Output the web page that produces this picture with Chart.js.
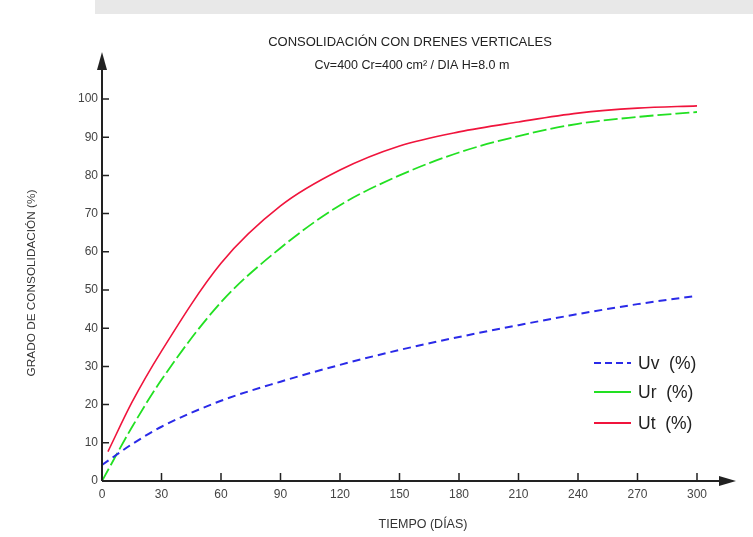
<!doctype html>
<html lang="es">
<head>
<meta charset="utf-8">
<title>Consolidación con drenes verticales</title>
<style>
  * { margin: 0; padding: 0; }
  body { background: #fff; width: 753px; height: 537px; overflow: hidden; position: relative; }
  .marca { position: absolute; left: 95px; top: 0; width: 658px; height: 14px; background: #e8e8e8; }
  .chartBox { position: absolute; left: 0; top: 0; width: 753px; height: 537px; }
</style>
</head>
<body>
<div class="marca"></div>
<div class="chartBox"><canvas id="grafConsolidacion"></canvas></div>
<script src="https://cdn.jsdelivr.net/npm/chart.js/dist/chart.umd.min.js"></script>
<script>
// datos
const dias   = [0, 15, 30, 60, 90, 120, 150, 180, 210, 240, 270, 300];
const diasUt = [3, 15, 30, 60, 90, 120, 150, 180, 210, 240, 270, 300];
const uv = [4.2, 9.6, 14.2, 21, 26, 30.4, 34.3, 37.7, 40.8, 43.7, 46.3, 48.5];
const ur = [0, 14, 26.5, 46.8, 61, 72.2, 80, 86, 90.3, 93.5, 95.3, 96.6];
const ut = [7.7, 20.5, 34, 57, 72, 81.4, 87.7, 91.4, 94, 96.3, 97.6, 98.2];
const ticksX = [0, 30, 60, 90, 120, 150, 180, 210, 240, 270, 300];
const ticksY = [0, 10, 20, 30, 40, 50, 60, 70, 80, 90, 100];
const etiquetas = ['Uv  (%)', 'Ur  (%)', 'Ut  (%)'];

const puntos = (xs, ys) => xs.map((d, i) => ({x: d, y: ys[i]}));

Chart.defaults.font.family = 'Liberation Sans, Arial, sans-serif';
Chart.defaults.font.size = 12;
Chart.defaults.color = '#444';

// ejes con flechas, marcas, textos y leyenda
const ejesPlugin = {
  id: 'ejesPlugin',
  afterDatasetsDraw(chart) {
    const {ctx, scales: {x, y}} = chart;
    const x0 = x.getPixelForValue(0);
    const y0 = y.getPixelForValue(0);
    ctx.save();
    ctx.strokeStyle = '#222';
    ctx.fillStyle = '#222';
    ctx.lineWidth = 2;
    ctx.setLineDash([]);

    ctx.beginPath();
    ctx.moveTo(x0, y0);
    ctx.lineTo(x0, 66);
    ctx.moveTo(x0, y0);
    ctx.lineTo(722, y0);
    ctx.stroke();

    ctx.beginPath();
    ctx.moveTo(x0, 52); ctx.lineTo(x0 - 5, 70); ctx.lineTo(x0 + 5, 70);
    ctx.fill();
    ctx.beginPath();
    ctx.moveTo(736, y0); ctx.lineTo(719, y0 - 5); ctx.lineTo(719, y0 + 5);
    ctx.fill();

    ctx.lineWidth = 1.5;
    ctx.beginPath();
    ticksX.forEach(v => {
      if (v === 0) return;
      const px = x.getPixelForValue(v);
      ctx.moveTo(px, y0);
      ctx.lineTo(px, y0 - 8);
    });
    ticksY.forEach(v => {
      if (v === 0) return;
      const py = y.getPixelForValue(v);
      ctx.moveTo(x0, py);
      ctx.lineTo(x0 + 7, py);
    });
    ctx.stroke();

    // titulos
    ctx.fillStyle = '#222';
    ctx.textAlign = 'center';
    ctx.textBaseline = 'middle';
    ctx.font = '13px Liberation Sans, Arial, sans-serif';
    ctx.fillText('CONSOLIDACIÓN CON DRENES VERTICALES', 410, 42);
    ctx.font = '12.5px Liberation Sans, Arial, sans-serif';
    ctx.fillText('Cv=400 Cr=400 cm² / DIA H=8.0 m', 412, 66);
    ctx.fillStyle = '#333';
    ctx.font = '12.5px Liberation Sans, Arial, sans-serif';
    ctx.fillText('TIEMPO (DÍAS)', 423, 525);
    ctx.save();
    ctx.translate(32, 283);
    ctx.rotate(-Math.PI / 2);
    ctx.font = '11.8px Liberation Sans, Arial, sans-serif';
    ctx.fillText('GRADO DE CONSOLIDACIÓN (%)', 0, 0);
    ctx.restore();

    // leyenda
    const filas = [363, 392, 423];
    chart.data.datasets.forEach((ds, i) => {
      ctx.strokeStyle = ds.borderColor;
      ctx.lineWidth = 1.8;
      ctx.setLineDash(i === 0 ? [7, 4] : []);
      ctx.beginPath();
      ctx.moveTo(594, filas[i]);
      ctx.lineTo(631, filas[i]);
      ctx.stroke();
      ctx.setLineDash([]);
      ctx.fillStyle = '#222';
      ctx.textAlign = 'left';
      ctx.font = '17.5px Liberation Sans, Arial, sans-serif';
      ctx.fillText(ds.label, 638, filas[i] + 1);
    });
    ctx.restore();
  }
};

new Chart(document.getElementById('grafConsolidacion'), {
  type: 'line',
  data: {
    datasets: [
      {label: etiquetas[0], data: puntos(dias, uv), borderColor: '#2a2ae8', borderWidth: 2, borderDash: [8, 5]},
      {label: etiquetas[1], data: puntos(dias, ur), borderColor: '#22e022', borderWidth: 1.8, borderDash: [14, 4]},
      {label: etiquetas[2], data: puntos(diasUt, ut), borderColor: '#f0143c', borderWidth: 1.6}
    ]
  },
  options: {
    responsive: true,
    maintainAspectRatio: false,
    animation: false,
    elements: {
      point: {radius: 0},
      line: {cubicInterpolationMode: 'monotone', fill: false}
    },
    layout: {padding: {top: 99, right: 56, left: 0, bottom: 0}},
    plugins: {legend: {display: false}, tooltip: {enabled: false}},
    scales: {
      x: {
        type: 'linear', min: 0, max: 300,
        afterBuildTicks: s => { s.ticks = ticksX.map(v => ({value: v})); },
        afterFit: s => { s.height = 56; },
        grid: {display: false, drawTicks: false},
        border: {display: false},
        ticks: {padding: 6, color: '#444'}
      },
      y: {
        type: 'linear', min: 0, max: 100,
        afterBuildTicks: s => { s.ticks = ticksY.map(v => ({value: v})); },
        afterFit: s => { s.width = 102; },
        grid: {display: false, drawTicks: false},
        border: {display: false},
        ticks: {padding: 4, color: '#444'}
      }
    }
  },
  plugins: [ejesPlugin]
});
</script>
</body>
</html>
